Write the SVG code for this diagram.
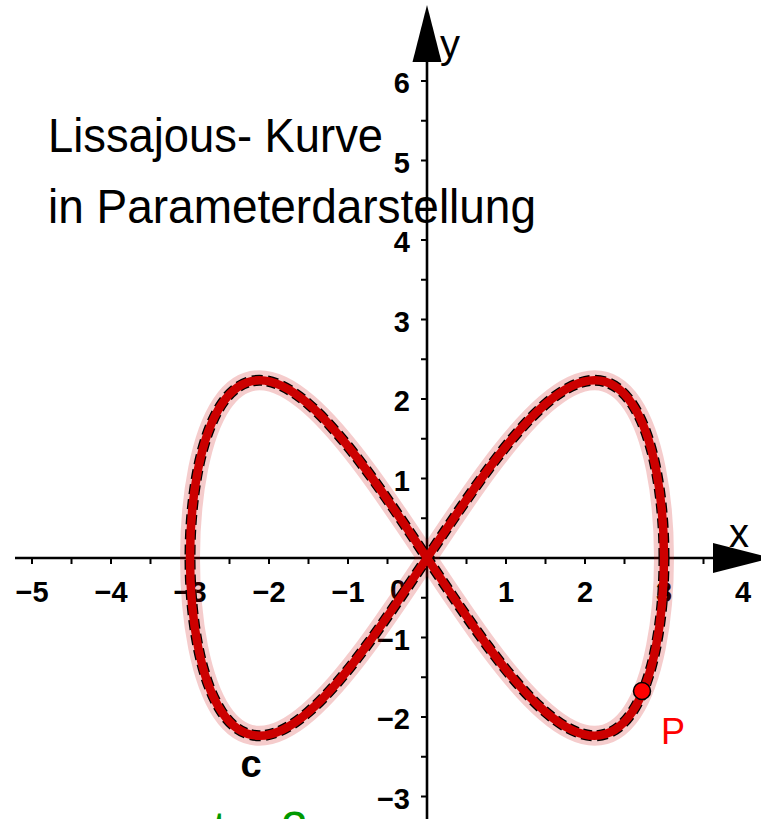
<svg xmlns="http://www.w3.org/2000/svg" width="761" height="819" viewBox="0 0 761 819">
<style>
.ax{stroke:#000;stroke-width:2.6;fill:none}
.tk{stroke:#000;stroke-width:2;fill:none}
.num{font-family:"Liberation Sans",Arial,sans-serif;font-weight:bold;font-size:29px;fill:#000}
.xn{text-anchor:middle}
.yn{text-anchor:end}
.title{font-family:"Liberation Sans",Arial,sans-serif;font-size:49px;fill:#000}
.axl{font-family:"Liberation Sans",Arial,sans-serif;font-size:40px;fill:#000}
</style>
<defs>
<path id="lis" d="M664,558 C664,526.98 661.28,496 655.93,469.13 C650.58,442.26 642.59,419.57 632.25,404.06 C621.91,388.55 609.2,380.25 594.58,380.25 C579.96,380.25 563.41,388.55 545.5,404.06 C527.59,419.57 508.32,442.26 488.34,469.13 C468.36,496 447.68,526.98 427,558 C406.32,589.02 385.64,620.01 365.66,646.88 C345.68,673.75 326.41,696.43 308.5,711.94 C290.59,727.45 274.04,735.75 259.42,735.75 C244.8,735.75 232.09,727.45 221.75,711.94 C211.41,696.43 203.42,673.75 198.07,646.88 C192.72,620.01 190,589.02 190,558 C190,526.98 192.72,496 198.07,469.13 C203.42,442.26 211.41,419.57 221.75,404.06 C232.09,388.55 244.8,380.25 259.42,380.25 C274.04,380.25 290.59,388.55 308.5,404.06 C326.41,419.57 345.68,442.26 365.66,469.13 C385.64,496 406.32,526.98 427,558 C447.68,589.02 468.36,620.01 488.34,646.88 C508.32,673.75 527.59,696.43 545.5,711.94 C563.41,727.45 579.96,735.75 594.58,735.75 C609.2,735.75 621.91,727.45 632.25,711.94 C642.59,696.43 650.58,673.75 655.93,646.88 C661.28,620.01 664,589.02 664,558 Z"/>
</defs>
<rect width="761" height="819" fill="#fff"/>
<g id="title">
<text class="title" x="48" y="152" textLength="335" lengthAdjust="spacingAndGlyphs">Lissajous- Kurve</text>
<text class="title" x="48" y="223" textLength="488" lengthAdjust="spacingAndGlyphs">in Parameterdarstellung</text>
</g>
<g id="connectors">
<g id="x-axis">
<line class="ax" x1="15" y1="558" x2="720" y2="558"/>
<polygon points="713,543 713,573 772,558" fill="#000"/>
<path class="tk" d="M32,558v6M71.5,558v6M111,558v6M150.5,558v6M190,558v6M229.5,558v6M269,558v6M308.5,558v6M348,558v6M387.5,558v6M466.5,558v6M506,558v6M545.5,558v6M585,558v6M624.5,558v6M664,558v6M703.5,558v6"/>
</g>
<g id="y-axis">
<line class="ax" x1="427" y1="819" x2="427" y2="55"/>
<polygon points="427,5 412.5,62 441.5,62" fill="#000"/>
<path class="tk" d="M421,836.25h6M421,796.5h6M421,756.75h6M421,717h6M421,677.25h6M421,637.5h6M421,597.75h6M421,518.25h6M421,478.5h6M421,438.75h6M421,399h6M421,359.25h6M421,319.5h6M421,279.75h6M421,240h6M421,200.25h6M421,160.5h6M421,120.75h6M421,81h6"/>
</g>
</g>
<g id="axis-labels">
<text class="axl" x="729" y="547">x</text>
<text class="axl" x="440" y="58">y</text>
<text class="num xn" x="32" y="602">−5</text>
<text class="num xn" x="111" y="602">−4</text>
<text class="num xn" x="190" y="602">−3</text>
<text class="num xn" x="269" y="602">−2</text>
<text class="num xn" x="348" y="602">−1</text>
<text class="num xn" x="398" y="600">0</text>
<text class="num xn" x="506" y="602">1</text>
<text class="num xn" x="585" y="602">2</text>
<text class="num xn" x="664" y="602">3</text>
<text class="num xn" x="743" y="602">4</text>
<text class="num yn" x="410" y="93">6</text>
<text class="num yn" x="410" y="172.5">5</text>
<text class="num yn" x="410" y="252">4</text>
<text class="num yn" x="410" y="331.5">3</text>
<text class="num yn" x="410" y="411">2</text>
<text class="num yn" x="410" y="490.5">1</text>
<text class="num yn" x="410" y="649.5">−1</text>
<text class="num yn" x="410" y="729">−2</text>
<text class="num yn" x="410" y="808.5">−3</text>
</g>
<g id="curve-c">
<use href="#lis" fill="none" stroke="#cc0000" stroke-opacity="0.2" stroke-width="20" stroke-linejoin="round"/>
<use href="#lis" fill="none" stroke="#000" stroke-width="11" stroke-dasharray="10 5"/>
<use href="#lis" fill="none" stroke="#cc0000" stroke-width="8.5"/>
<text x="251" y="777" text-anchor="middle" font-family="Liberation Sans, Arial, sans-serif" font-weight="bold" font-size="38" fill="#000">c</text>
</g>
<g id="point-P">
<circle cx="642" cy="691" r="8.5" fill="#ff0000" stroke="#000" stroke-width="1.5"/>
<text x="661" y="744" font-family="Liberation Sans, Arial, sans-serif" font-size="36" fill="#ff0000">P</text>
</g>
<g id="slider-label">
<text x="213" y="845" font-family="Liberation Sans, Arial, sans-serif" font-size="48" fill="#009900">t = 2</text>
</g>
</svg>
